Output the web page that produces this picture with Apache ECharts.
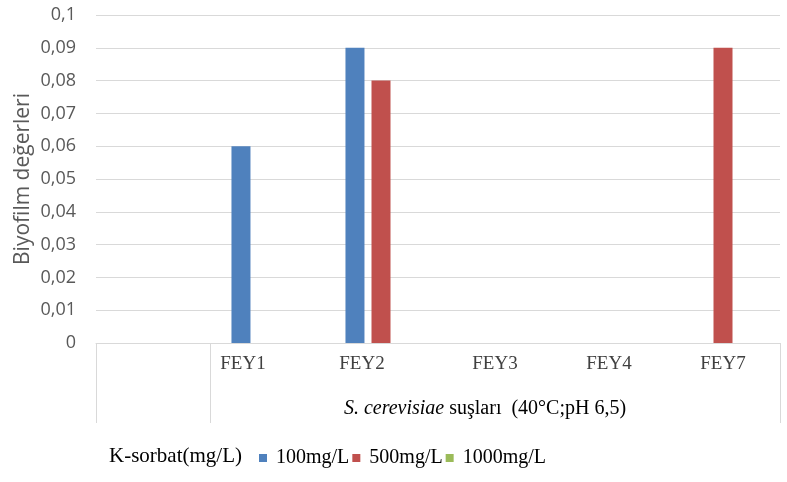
<!DOCTYPE html>
<html>
<head>
<meta charset="utf-8">
<script src="https://cdn.jsdelivr.net/npm/echarts@6/dist/echarts.min.js"></script>
<style>html,body{margin:0;padding:0;background:#fff}#c{width:787px;height:482px}</style>
</head>
<body>
<div id="c"></div>
<script>
const categories = ['', 'FEY1', 'FEY2', 'FEY3', 'FEY4', 'FEY7'];
const seriesNames = ['100mg/L', '500mg/L', '1000mg/L'];
const values100 = [null, 0.06, 0.09, 0, 0, 0];
const values500 = [null, 0, 0.08, 0, 0, 0.09];
const values1000 = [null, 0, 0, 0, 0, 0];
const yTicks = { min: 0, max: 0.1, interval: 0.01 };
const colors = ['#4F81BD', '#C0504D', '#9BBB59'];

const chart = echarts.init(document.getElementById('c'), null, { renderer: 'canvas' });
const serif = '"Liberation Serif", "Times New Roman", serif';
const sans = '"Open Sans", "Liberation Sans", sans-serif';
const mk = (name, data, i) => ({
  name, type: 'bar', data, barWidth: 19, barGap: '37%',
  itemStyle: { color: colors[i] }, animation: false
});
const lab = { fontFamily: serif, fontSize: 19, color: '#404040' };
chart.setOption({
  animation: false,
  title: {
    text: 'K-sorbat(mg/L)', left: 104, top: 441,
    textStyle: { fontFamily: serif, fontSize: 21, fontWeight: 'normal', color: '#000' }
  },
  legend: {
    data: seriesNames, left: 254, top: 443, itemWidth: 8, itemHeight: 8, itemGap: 3,
    icon: 'rect',
    textStyle: { fontFamily: serif, fontSize: 20, color: '#000', padding: [0, 0, 0, 4] }
  },
  grid: { left: 96, right: 7, top: 15, bottom: 139, containLabel: false },
  xAxis: {
    type: 'category', data: categories,
    axisLine: { lineStyle: { color: '#d9d9d9', width: 1 } },
    axisTick: { show: true, length: 80, interval: (i) => i <= 1, lineStyle: { color: '#d9d9d9' } },
    axisLabel: {
      interval: 0, margin: 12, ...lab,
      formatter: (v, i) => i === 1 ? '{a|' + v + '}' : (i === 2 ? '{b|' + v + '}' : '{n|' + v + '}'),
      rich: {
        a: { ...lab, padding: [0, 48, 0, 0] },
        b: { ...lab, padding: [0, 38, 0, 0] },
        n: { ...lab }
      }
    },
    name: '{i|S. cerevisiae} suşları  (40°C;pH 6,5)',
    nameLocation: 'middle', nameGap: 56, nameMoveOverlap: false,
    nameTextStyle: {
      fontFamily: serif, fontSize: 20, color: '#000', padding: [0, 0, 0, 94],
      rich: { i: { fontFamily: serif, fontSize: 20, fontStyle: 'italic', color: '#000' } }
    }
  },
  yAxis: {
    type: 'value', min: yTicks.min, max: yTicks.max, interval: yTicks.interval,
    axisLine: { show: false }, axisTick: { show: false },
    splitLine: { lineStyle: { color: '#d9d9d9', width: 1 } },
    axisLabel: {
      margin: 20, fontFamily: sans, fontSize: 18, color: '#595959',
      formatter: (v) => String(+v.toFixed(2)).replace('.', ',')
    },
    name: 'Biyofilm değerleri', nameLocation: 'middle', nameGap: 62, nameRotate: 90,
    nameMoveOverlap: false,
    nameTextStyle: { fontFamily: sans, fontSize: 21, color: '#595959' }
  },
  series: [mk(seriesNames[0], values100, 0), mk(seriesNames[1], values500, 1), mk(seriesNames[2], values1000, 2)]
});
</script>
</body>
</html>
